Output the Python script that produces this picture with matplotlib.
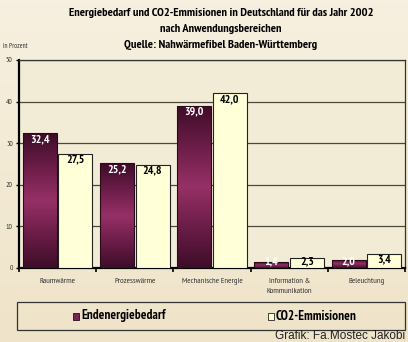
import matplotlib.pyplot as plt
import numpy as np
from matplotlib.patches import Rectangle
from matplotlib.colors import LinearSegmentedColormap

categories = ["Raumwärme", "Prozesswärme", "Mechanische Energie",
              "Information &\nKommunikation", "Beleuchtung"]
endenergie = [32.4, 25.2, 39.0, 1.4, 2.0]
co2 = [27.5, 24.8, 42.0, 2.3, 3.4]
series_names = ["Endenergiebedarf", "CO2-Emmisionen"]

narrow = ["PT Sans Narrow", "DejaVu Sans"]
plt.rcParams["font.family"] = ["Liberation Sans", "DejaVu Sans"]

fig = plt.figure(figsize=(4.08, 3.42), dpi=100)

# background gradient for the whole figure
bg = fig.add_axes([0, 0, 1, 1], zorder=-10)
grad = np.linspace(0, 1, 100).reshape(-1, 1)
bg_cmap = LinearSegmentedColormap.from_list("bg", ["#f7f0e0", "#efe4c9"])
bg.imshow(grad, aspect="auto", cmap=bg_cmap, extent=[0, 1, 0, 1])
bg.axis("off")

ax = fig.add_axes([19 / 408, 1 - 268 / 342, 386 / 408, 208 / 342])
ax.set_facecolor("#f2ecd6")

x = np.arange(len(categories))
width = 0.44
off = 0.23

purple = LinearSegmentedColormap.from_list(
    "purple", ["#3e0d28", "#6b1d48", "#963066", "#6b1d48", "#3e0d28"])
vgrad = np.linspace(0, 1, 200).reshape(-1, 1)

bars1 = ax.bar(x - off, endenergie, width, color="#7a2355",
               edgecolor="#2a0a1a", linewidth=0.8, zorder=3)
bars2 = ax.bar(x + off, co2, width, color="#ffffd8",
               edgecolor="#222222", linewidth=0.8, zorder=3)

for b in bars1:
    im = ax.imshow(vgrad, aspect="auto", cmap=purple, zorder=3.5,
                   extent=[b.get_x(), b.get_x() + b.get_width(), 0, b.get_height()])
    im.set_clip_path(b)
    b.set_facecolor("none")
    b.set_zorder(4)

for v, xi in zip(endenergie, x - off):
    ax.text(xi, max(v - 1.4, 1.5), f"{v:.1f}".replace(".", ","), ha="center",
            va="center", color="white", fontsize=8.5, fontweight="bold",
            family=narrow, zorder=5)
for v, xi in zip(co2, x + off):
    ax.text(xi, max(v - 1.4, 1.5), f"{v:.1f}".replace(".", ","), ha="center",
            va="center", color="black", fontsize=8.5, fontweight="bold",
            family=narrow, zorder=5)

ax.set_xlim(-0.5, len(categories) - 0.5)
ax.set_ylim(0, 50)
ax.set_yticks([0, 10, 20, 30, 40, 50])
ax.set_yticklabels(["0", "10", "20", "30", "40", "50"], fontsize=5.5,
                   family=narrow, color="#333333")
ax.yaxis.grid(True, color="#4a4a3a", linewidth=0.9, zorder=1)
ax.set_axisbelow(True)
ax.set_xticks(x)
ax.set_xticklabels(categories, fontsize=6, family=narrow, color="#333333",
                   linespacing=1.75)
ax.tick_params(axis="x", length=0, pad=7)
ax.set_xticks(np.arange(-0.5, len(categories)), minor=True)
ax.tick_params(axis="x", which="minor", length=3, width=1.2, direction="out")
ax.tick_params(axis="y", length=2.5, width=1, pad=2)
for s in ["left", "bottom"]:
    ax.spines[s].set_linewidth(1.6)
    ax.spines[s].set_color("black")
for s in ["top", "right"]:
    ax.spines[s].set_linewidth(0.9)
    ax.spines[s].set_color("#333333")

title_kw = dict(ha="center", va="center", fontsize=8.9, fontweight="bold", family=narrow)
fig.text(221 / 408, 1 - 13 / 342,
         "Energiebedarf und CO2-Emmisionen in Deutschland für das Jahr 2002", **title_kw)
fig.text(221 / 408, 1 - 29 / 342, "nach Anwendungsbereichen", **title_kw)
fig.text(221 / 408, 1 - 45 / 342, "Quelle: Nahwärmefibel Baden-Württemberg", **title_kw)
fig.text(3 / 408, 1 - 47 / 342, "in Prozent", ha="left", va="center",
         fontsize=5, family=narrow, color="#333333")

# legend box
fig.patches.append(Rectangle((17 / 408, 1 - 330 / 342), 388 / 408, 28 / 342,
                             transform=fig.transFigure, facecolor="none",
                             edgecolor="#333333", linewidth=0.9))
fig.patches.append(Rectangle((73 / 408, 1 - 320 / 342), 6 / 408, 7 / 342,
                             transform=fig.transFigure, facecolor="#7a2355",
                             edgecolor="#2a0a1a", linewidth=0.6))
fig.text(81 / 408, 1 - 316 / 342, series_names[0], ha="left", va="center",
         fontsize=9.5, fontweight="bold", family=narrow)
fig.patches.append(Rectangle((268 / 408, 1 - 320 / 342), 6 / 408, 7 / 342,
                             transform=fig.transFigure, facecolor="#ffffd8",
                             edgecolor="#222222", linewidth=0.6))
fig.text(276 / 408, 1 - 316 / 342, series_names[1], ha="left", va="center",
         fontsize=9.5, fontweight="bold", family=narrow)

fig.text(405 / 408, 1 - 336 / 342, "Grafik: Fa.Mostec Jakobi", ha="right",
         va="center", fontsize=8.5, color="#222222")

fig.savefig("out.png", dpi=100)
